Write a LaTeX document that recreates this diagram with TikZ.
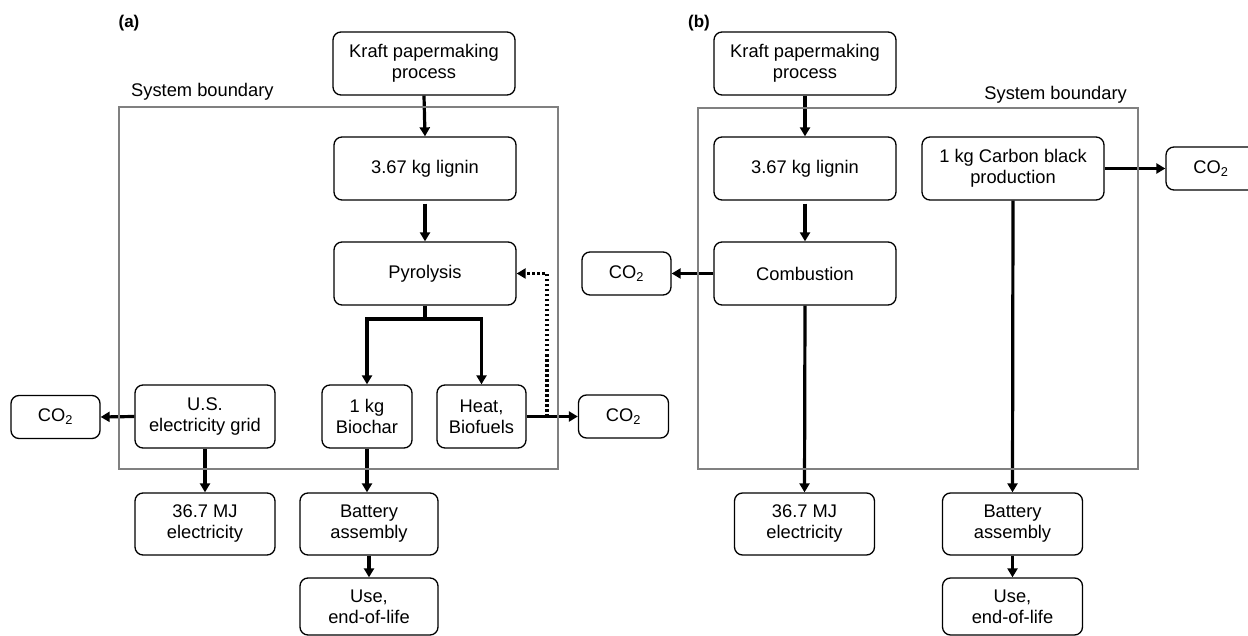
\documentclass[tikz,border=0pt]{standalone}
\usepackage{fontspec}
\setmainfont{Liberation Sans}
\usetikzlibrary{arrows.meta,calc}
\begin{document}
\begin{tikzpicture}[x=1pt,y=-1pt,
  every node/.style={font=\fontsize{18.3}{21}\selectfont},
  pbox/.style={draw=black, rounded corners=8pt, line width=1.3pt, align=center, inner sep=0pt, fill=white},
  wbox/.style={pbox, minimum width=182pt, minimum height=63pt},
  sbox/.style={pbox, minimum width=140pt, minimum height=62pt},
  nbox/.style={pbox, minimum width=89pt, minimum height=63pt},
  cbox/.style={pbox, minimum width=90pt, minimum height=43pt},
  ubox/.style={pbox, minimum width=139pt, minimum height=57pt},
  arr/.style={line width=3.2pt, -{Triangle[length=9pt,width=10pt]}},
  dotarr/.style={line width=3.2pt, dash pattern=on 2.6pt off 2.4pt, -{Triangle[length=9pt,width=10pt]}},
  bound/.style={draw=black!50, line width=2pt},
  lbl/.style={font=\fontsize{17}{20}\selectfont\bfseries, inner sep=0pt},
  sblbl/.style={inner sep=0pt}
]
\useasboundingbox (0,0) rectangle (1248,636);
\clip (0,0) rectangle (1248,636);

% ---------- panel (a) ----------
\node[lbl] (la) at (129,23) {(a)};
\node[wbox] (ka) at (424,63.5) {Kraft papermaking\\process};
\node[wbox] (lga) at (425,168.5) {3.67 kg lignin};
\node[wbox] (pya) at (425,273.5) {Pyrolysis};
\node[sbox, minimum height=63pt] (grid) at (205,416.5) {U.S.\\electricity grid};
\node[nbox, minimum width=90pt] (bio) at (367,416.5) {1 kg\\Biochar};
\node[nbox] (heat) at (481.5,416.5) {Heat,\\Biofuels};
\node[cbox, minimum width=89pt] (co2l) at (55.5,417) {CO\textsubscript{2}};
\node[cbox] (co2r) at (623.5,416.5) {CO\textsubscript{2}};
\node[sbox] (mja) at (205,524) {36.7 MJ\\electricity};
\node[sbox, minimum width=138pt] (bata) at (369,524) {Battery\\assembly};
\node[ubox, minimum width=138pt] (usea) at (369,606.5) {Use,\\end-of-life};
\node[sblbl, anchor=west] (sba) at (131,92) {System boundary};

\coordinate (splita) at (425,319);
\coordinate (dota) at (547,416.5);

\draw[arr] (ka.south) -- (lga.north);
\draw[arr] (lga.south) ++(0,3) -- (pya.north);
\draw[line width=3.2pt] (pya.south) -- (splita);
\draw[arr] (splita) -| (bio.north);
\draw[arr] (splita) -| (heat.north);
\draw[arr] (heat.east) -- (co2r.west);
\draw[dotarr] (dota) |- (pya.east);
\draw[arr] (grid.west) -- (co2l.east);
\draw[arr] (grid.south) -- (mja.north);
\draw[arr] (bio.south) -- (bio.south |- bata.north);
\draw[arr] (bata.south) -- (usea.north);

\draw[bound] (118.5,107) rectangle (558,469);

% ---------- panel (b) ----------
\node[lbl] (lb) at (699,23) {(b)};
\node[wbox] (kb) at (805,63.5) {Kraft papermaking\\process};
\node[wbox] (lgb) at (805,168.5) {3.67 kg lignin};
\node[wbox] (cb) at (1013,168.5) {1 kg Carbon black\\production};
\node[wbox] (comb) at (805,273.5) {Combustion};
\node[cbox, minimum width=89pt] (co2m) at (626.5,273.5) {CO\textsubscript{2}};
\node[cbox] (co2t) at (1211,168.5) {CO\textsubscript{2}};
\node[sbox] (mjb) at (804.5,524) {36.7 MJ\\electricity};
\node[sbox] (batb) at (1012.5,524) {Battery\\assembly};
\node[ubox, minimum width=140pt] (useb) at (1012.5,606.5) {Use,\\end-of-life};
\node[sblbl, anchor=east] (sbb) at (1127,95) {System boundary};

\draw[arr] (kb.south) -- (lgb.north);
\draw[arr] (lgb.south) ++(0,3) -- (comb.north);
\draw[arr] (comb.west) -- (co2m.east);
\draw[arr] (comb.south) -- (mjb.north);
\draw[arr] (cb.east) -- (co2t.west);
\draw[arr] (cb.south) -- (batb.north);
\draw[arr] (batb.south) -- (useb.north);

\draw[bound] (697.5,108) rectangle (1138,469);
\end{tikzpicture}
\end{document}
